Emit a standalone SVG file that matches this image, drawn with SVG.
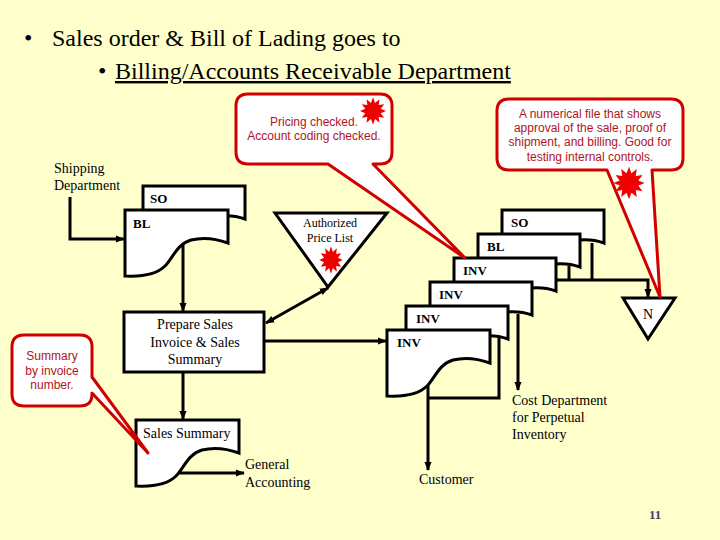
<svg xmlns="http://www.w3.org/2000/svg" width="720" height="540" viewBox="0 0 720 540">
<style>
.doc{fill:#fff;stroke:#000;stroke-width:3;stroke-linejoin:miter}
.box{fill:#fff;stroke:#000;stroke-width:3}
.con{fill:none;stroke:#000;stroke-width:3}
.arrow{marker-end:url(#arr)}
.t{font-family:"Liberation Serif","Times New Roman",serif;font-size:14px;fill:#000}
.ts{font-family:"Liberation Serif","Times New Roman",serif;font-size:12px;fill:#000}
.mid{text-anchor:middle}
.lbl{font-family:"Liberation Serif","Times New Roman",serif;font-size:13px;font-weight:bold;fill:#000}
.call{fill:#fff;stroke:#D00000;stroke-width:3;stroke-linejoin:round}
.ct{font-family:"Liberation Sans",Arial,sans-serif;font-size:12px;fill:#B0141E;text-anchor:middle}
.star{fill:#F00000}
.title{font-family:"Liberation Serif","Times New Roman",serif;font-size:24px;fill:#000}
</style>
<defs>
<marker id="arr" viewBox="0 0 10 10" refX="9" refY="5" markerWidth="9" markerHeight="9" markerUnits="userSpaceOnUse" orient="auto-start-reverse">
<path d="M0,1 L10,5 L0,9 z" fill="#000"/>
</marker>
<path id="fdoc" d="M0,0 H103 V33 C92,29 78,27 66,30 C52,34 48,48 40,56 C32,64 20,67 0,66 Z"/>
<path id="bdoc" d="M0,0 H102 V33 C94,30 86,29 76,30 L0,30 Z"/>
<polygon id="burst" points="13,0 7.73,2.07 11.26,6.5 5.66,5.66 6.5,11.26 2.07,7.73 0,13 -2.07,7.73 -6.5,11.26 -5.66,5.66 -11.26,6.5 -7.73,2.07 -13,0 -7.73,-2.07 -11.26,-6.5 -5.66,-5.66 -6.5,-11.26 -2.07,-7.73 0,-13 2.07,-7.73 6.5,-11.26 5.66,-5.66 11.26,-6.5 7.73,-2.07"/>
</defs>
<rect x="0" y="0" width="720" height="540" fill="#FFFFCC"/>

<g id="title">
<text class="title" x="24" y="46">•</text>
<text class="title" x="52" y="46">Sales order &amp; Bill of Lading goes to</text>
<text class="title" x="98" y="79" font-size="20">•</text>
<text class="title" x="115" y="79" text-decoration="underline">Billing/Accounts Receivable Department</text>
</g>

<g id="shipping">
<text class="t" x="54" y="173">Shipping</text>
<text class="t" x="54" y="190">Department</text>
</g>

<g id="doc-so-left">
<use href="#bdoc" class="doc" x="143" y="186"/>
<text class="lbl" x="150" y="203">SO</text>
</g>
<g id="doc-bl-left">
<use href="#fdoc" class="doc" x="125" y="210"/>
<text class="lbl" x="133" y="228">BL</text>
</g>

<g id="price-list">
<polygon class="box" points="275,213 387,213 328,287"/>
<text class="ts mid" x="330" y="227">Authorized</text>
<text class="ts mid" x="330" y="242">Price List</text>
<use href="#burst" class="star" transform="translate(331,260) scale(0.9,1.05)"/>
</g>

<g id="prepare">
<rect class="box" x="124" y="312" width="140" height="60"/>
<text class="t mid" x="195" y="329">Prepare Sales</text>
<text class="t mid" x="195" y="347">Invoice &amp; Sales</text>
<text class="t mid" x="195" y="364">Summary</text>
</g>

<g id="stack">
<g id="doc-so"><use href="#bdoc" class="doc" x="502" y="210"/><text class="lbl" x="511" y="227">SO</text></g>
<g id="doc-bl"><use href="#bdoc" class="doc" x="478" y="234"/><text class="lbl" x="487" y="251">BL</text></g>
<g id="doc-inv1"><use href="#bdoc" class="doc" x="454" y="258"/><text class="lbl" x="463" y="275">INV</text></g>
<g id="doc-inv2"><use href="#bdoc" class="doc" x="430" y="282"/><text class="lbl" x="439" y="299">INV</text></g>
<g id="doc-inv3"><use href="#bdoc" class="doc" x="406" y="306"/><text class="lbl" x="416" y="323">INV</text></g>
<g id="doc-inv4"><use href="#fdoc" class="doc" x="387" y="330"/><text class="lbl" x="397" y="347">INV</text></g>
</g>

<g id="file-n">
<polygon class="box" points="623,298 675,298 648,339"/>
<text class="t mid" x="648" y="319">N</text>
</g>

<g id="sales-summary">
<use href="#fdoc" class="doc" x="136" y="420"/>
<text class="t" x="143" y="438">Sales Summary</text>
</g>

<g id="labels">
<text class="t" x="245" y="469">General</text>
<text class="t" x="245" y="487">Accounting</text>
<text class="t" x="512" y="405">Cost Department</text>
<text class="t" x="512" y="422">for Perpetual</text>
<text class="t" x="512" y="439">Inventory</text>
<text class="t" x="419" y="484">Customer</text>
<text x="649" y="519" font-family="Liberation Serif, serif" font-size="13" font-weight="bold" fill="#4A3C6E">11</text>
</g>

<g id="connectors">
<polyline class="con arrow" points="70,197 70,239 124,239"/>
<line class="con arrow" x1="183" y1="244" x2="183" y2="311"/>
<line class="con arrow" x1="328" y1="288" x2="266" y2="323" marker-start="url(#arr)"/>
<line class="con arrow" x1="264" y1="341" x2="386" y2="341"/>
<line class="con arrow" x1="183" y1="372" x2="183" y2="419"/>
<line class="con arrow" x1="178" y1="473" x2="244" y2="473"/>
<line class="con" x1="592" y1="243" x2="592" y2="280"/>
<line class="con" x1="569" y1="266" x2="569" y2="280"/>
<polyline class="con arrow" points="556,280 648,280 648,297"/>
<line class="con arrow" x1="518" y1="314" x2="518" y2="390"/>
<polyline class="con" points="499,338 499,398 428,398"/>
<line class="con arrow" x1="428" y1="385" x2="428" y2="470"/>
</g>

<g id="callout-pricing">
<path class="call" d="M248,94 H380 Q392,94 392,106 V152 Q392,164 380,164 H373 L465,258 L328,164 H248 Q236,164 236,152 V106 Q236,94 248,94 Z"/>
<text class="ct" x="314" y="126">Pricing checked.</text>
<text class="ct" x="314" y="140">Account coding checked.</text>
<use href="#burst" class="star" transform="translate(373,111) scale(1,1.05)"/>
</g>

<g id="callout-file">
<path class="call" d="M509,99 H671 Q683,99 683,111 V158 Q683,170 671,170 H652 L660,297 L607,170 H509 Q497,170 497,158 V111 Q497,99 509,99 Z"/>
<text class="ct" x="590" y="118">A numerical file that shows</text>
<text class="ct" x="590" y="132">approval of the sale, proof of</text>
<text class="ct" x="590" y="146">shipment, and billing. Good for</text>
<text class="ct" x="590" y="161">testing internal controls.</text>
<use href="#burst" class="star" transform="translate(629,183) scale(1.2,1.25)"/>
</g>

<g id="callout-summary">
<path class="call" d="M24,335 H80 Q92,335 92,347 V377 L148,453 L92,393 V394 Q92,406 80,406 H24 Q12,406 12,394 V347 Q12,335 24,335 Z"/>
<text class="ct" x="52" y="360">Summary</text>
<text class="ct" x="52" y="375">by invoice</text>
<text class="ct" x="52" y="389">number.</text>
</g>
</svg>
